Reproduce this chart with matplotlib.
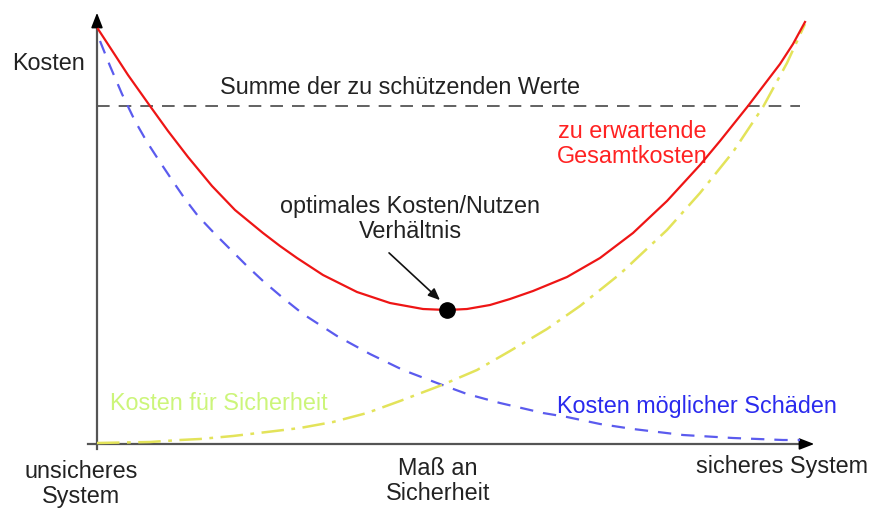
import matplotlib.pyplot as plt

# security level (x) vs. cost (y)
x_schaden = [3, 5, 13, 25, 38, 50, 61, 75, 88, 101, 118, 135, 150, 166, 186, 206, 240, 273, 306,
             340, 370, 403, 446, 470, 503, 536, 586, 636, 686, 703]
y_schaden = [403, 398, 378, 350, 323, 302, 285, 264, 245, 228, 210, 193, 178, 163, 146, 130, 108,
             90, 74, 61, 50, 41, 31, 27, 20, 15, 9, 6, 4, 4]

x_sicherheit = [0, 53, 83, 103, 136, 170, 203, 236, 270, 303, 345, 380, 413, 450, 483, 523, 570,
                603, 636, 666, 690, 708]
y_sicherheit = [1, 2, 4, 5, 8, 12, 16, 22, 31, 43, 59, 74, 93, 115, 138, 170, 214, 251, 292, 337,
                381, 420]

x_gesamt = [1, 18, 31, 53, 71, 91, 115, 138, 166, 183, 200, 226, 260, 293, 326, 350, 370, 393, 413,
            436, 470, 503, 536, 570, 603, 623, 651, 683, 696, 708]
y_gesamt = [415, 389, 369, 338, 313, 287, 258, 234, 211, 198, 186, 169, 152, 141, 135, 134, 135,
            139, 145, 153, 167, 186, 211, 243, 279, 303, 338, 380, 400, 422]

summe_werte = 338
summe_bis = 703
optimum = (350, 134)

plt.rcParams['font.family'] = ['Liberation Sans', 'DejaVu Sans']

fig = plt.figure(figsize=(8.73, 5.10), dpi=100)
ax = fig.add_axes([0, 0, 1, 1])
ax.set_xlim(-97, 776)
ax.set_ylim(-65, 445)
ax.axis('off')

# axes with arrows
axcol = '#555555'
ax.plot([-9, 712], [0, 0], color=axcol, lw=1.6, zorder=2)
ax.plot([0, 0], [-5, 425], color=axcol, lw=1.6, zorder=2)
ax.annotate('', xy=(720, 0), xytext=(700, 0),
            arrowprops=dict(arrowstyle='-|>,head_length=0.9,head_width=0.35', color='black', lw=1.2))
ax.annotate('', xy=(0, 434), xytext=(0, 414),
            arrowprops=dict(arrowstyle='-|>,head_length=0.9,head_width=0.35', color='black', lw=1.2))

# sum of values to protect
ax.plot([0, summe_bis], [summe_werte, summe_werte], color='#555555', lw=1.3,
        dashes=(7, 5), zorder=1)

ax.plot(x_schaden, y_schaden, color='#5b5bee', lw=1.6, dashes=(6, 4.5), zorder=3,
        solid_joinstyle='round')
ax.plot(x_sicherheit, y_sicherheit, color='#e3e35a', lw=1.8, dashes=(9, 3, 1.5, 3), zorder=3)
ax.plot(x_gesamt, y_gesamt, color='#ee1515', lw=1.6, zorder=4, solid_joinstyle='round')

ax.plot(*optimum, 'o', color='black', ms=11, zorder=5)
ax.annotate('', xy=(optimum[0] - 5, optimum[1] + 8), xytext=(290, 193),
            arrowprops=dict(arrowstyle='-|>,head_length=0.7,head_width=0.3', color='#111111', lw=1.2))

fs = 16.8
tcol = '#222222'
ax.text(-48, 382, 'Kosten', fontsize=fs, color=tcol, ha='center', va='center')
ax.text(303, 357, 'Summe der zu schützenden Werte', fontsize=fs, color=tcol, ha='center', va='center')
ax.text(535, 301, 'zu erwartende\nGesamtkosten', fontsize=fs, color='#ff2222',
        ha='center', va='center', linespacing=1.1)
ax.text(313, 226, 'optimales Kosten/Nutzen\nVerhältnis', fontsize=fs, color=tcol,
        ha='center', va='center', linespacing=1.1)
ax.text(13, 42, 'Kosten für Sicherheit', fontsize=fs, color='#ccf57a', ha='left', va='center')
ax.text(460, 38, 'Kosten möglicher Schäden', fontsize=fs, color='#2a2aee', ha='left', va='center')
ax.text(-16, -39, 'unsicheres\nSystem', fontsize=fs, color=tcol, ha='center', va='center',
        linespacing=1.1)
ax.text(341, -36, 'Maß an\nSicherheit', fontsize=fs, color=tcol, ha='center', va='center',
        linespacing=1.1)
ax.text(685, -22, 'sicheres System', fontsize=fs, color=tcol, ha='center', va='center')

fig.savefig('out.png', dpi=100)
